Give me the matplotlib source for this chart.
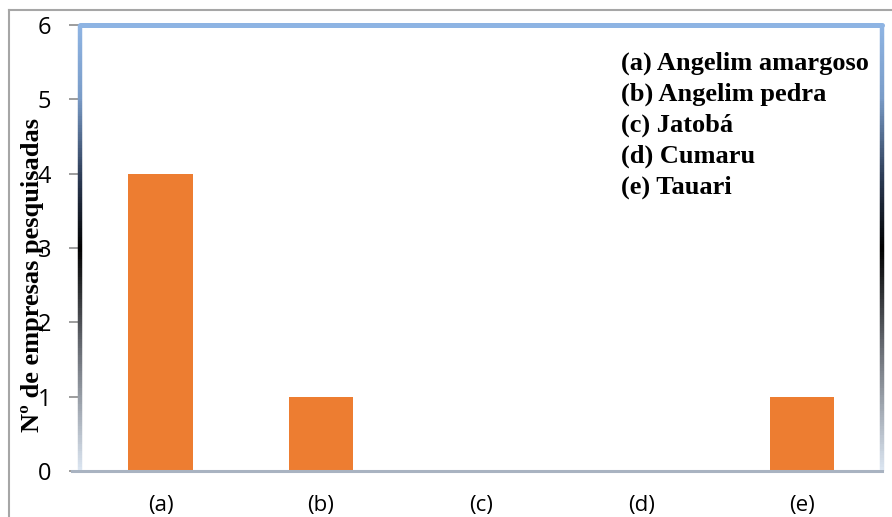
import numpy as np
import matplotlib
matplotlib.use("Agg")
import matplotlib.pyplot as plt
from matplotlib.collections import LineCollection
from matplotlib.colors import LinearSegmentedColormap
from matplotlib.lines import Line2D

# Data
categories = ["(a)", "(b)", "(c)", "(d)", "(e)"]
counts = [4, 1, 0, 0, 1]
species = ["(a) Angelim amargoso", "(b) Angelim pedra", "(c) Jatobá",
           "(d) Cumaru", "(e) Tauari"]
y_ticks = [0, 1, 2, 3, 4, 5, 6]

W, H = 892, 517
fig = plt.figure(figsize=(W / 100, H / 100), dpi=100)
fig.patch.set_facecolor("white")

def fx(px):
    return px / W

def fy(py):
    return 1 - py / H

left, right, top, bottom = 80.3, 882.2, 25.0, 471.0
ax = fig.add_axes([fx(left), fy(bottom), fx(right - left), fy(top) - fy(bottom)])

x = np.arange(len(categories))
ax.bar(x, counts, width=0.4, color="#ed7d31", zorder=3)
ax.set_xlim(-0.5, len(categories) - 0.5)
ax.set_ylim(0, 6)
ax.set_yticks(y_ticks)
ax.set_yticklabels([str(t) for t in y_ticks], fontsize=17, family="Open Sans")
ax.tick_params(axis="y", length=8, width=1.2, color="#8c8c8c", pad=13)
ax.set_xticks(x)
ax.set_xticklabels(categories, fontsize=16, family="Open Sans")
ax.tick_params(axis="x", length=0, pad=17)

for s in ax.spines.values():
    s.set_visible(False)

# Gradient frame around the plot area
stops = [(0.0, "#dce6f2"), (0.27, "#6a6e75"), (0.5, "#000000"),
         (0.66, "#2c3b55"), (0.84, "#7a9cc8"), (1.0, "#8eb4e3")]
cmap = LinearSegmentedColormap.from_list("frame", stops)
n = 200
ys = np.linspace(0, 1, n + 1)
for xpos in (0.0, 1.0):
    segs = [[(xpos, ys[i]), (xpos, ys[i + 1])] for i in range(n)]
    lc = LineCollection(segs, colors=cmap((ys[:-1] + ys[1:]) / 2), linewidths=3.2,
                        transform=ax.transAxes, clip_on=False, zorder=4)
    ax.add_collection(lc)
ax.add_line(Line2D([0, 1], [1, 1], transform=ax.transAxes, color="#8eb4e3",
                   lw=3.6, clip_on=False, zorder=4, solid_capstyle="round"))
ax.add_line(Line2D([-0.01, 1], [0, 0], transform=ax.transAxes, color="#a9b3c1",
                   lw=2.2, clip_on=False, zorder=5))

ax.set_ylabel("Nº de empresas pesquisadas", family="Liberation Serif",
              fontweight="bold", fontsize=19)
ax.yaxis.set_label_coords(fx(44 - left) / fx(right - left), 0.44)

# Species key
for i, name in enumerate(species):
    fig.text(fx(621), fy(63 + i * 31), name, family="Liberation Serif",
             fontweight="bold", fontsize=19, va="center", ha="left")

# Outer chart border
fig.add_artist(Line2D([fx(9), 1], [fy(10), fy(10)], color="#a6a6a6", lw=1.5,
                      transform=fig.transFigure))
fig.add_artist(Line2D([fx(9), fx(9)], [fy(10), 0], color="#a6a6a6", lw=1.5,
                      transform=fig.transFigure))

fig.savefig("out.png", dpi=100, facecolor="white")
